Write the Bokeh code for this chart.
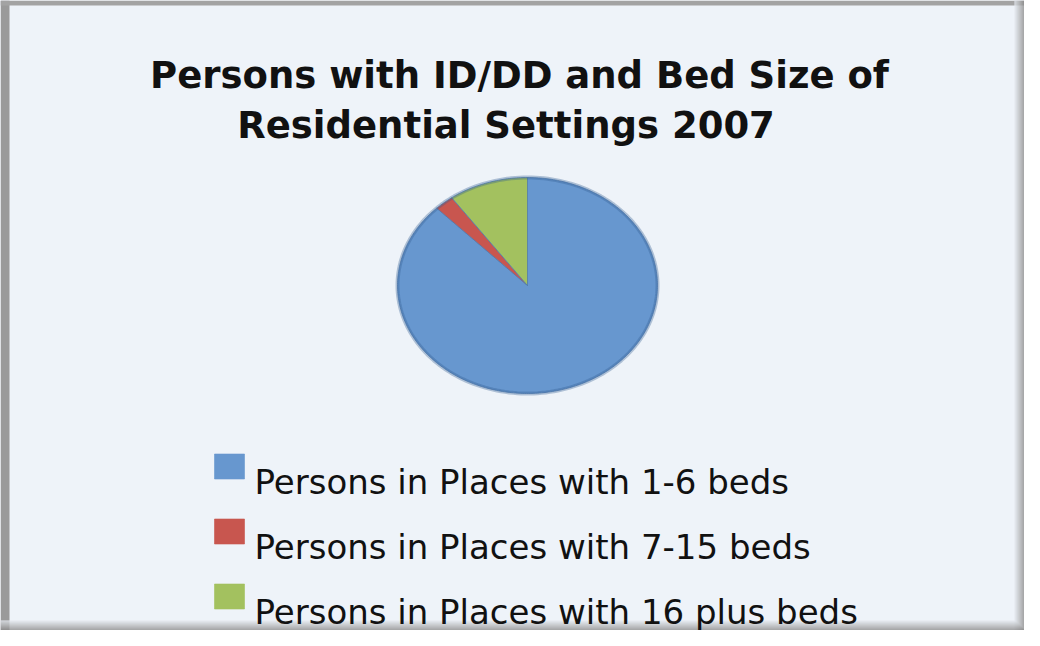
import numpy as np
from bokeh.plotting import figure
from bokeh.models import Range1d, ColumnDataSource
from bokeh.core.properties import value
from bokeh.embed import file_html
from bokeh.resources import INLINE

# ---- data ----
categories = ["Persons in Places with 1-6 beds",
              "Persons in Places with 7-15 beds",
              "Persons in Places with 16 plus beds"]
shares = [87.7, 2.4, 9.9]          # percent of persons
colors = ["#6797cf", "#c8564f", "#a3c15f"]
title_lines = ["Persons with ID/DD and Bed Size of", "Residential Settings  2007"]

# ---- layout/style constants ----
W, H = 1024, 630
X0, Y0 = 0, 0                      # data coords == reference pixel coords
CX, CY, RX, RY = 527, 285, 130, 108
BG = "#eef3f9"
FONT = "DejaVu Sans"

p = figure(width=W, height=H, output_backend="svg", toolbar_location=None,
           x_range=Range1d(X0, X0 + W), y_range=Range1d(Y0 + H, Y0),
           x_axis_type=None, y_axis_type=None, min_border=0)
p.grid.visible = False
p.outline_line_color = None
p.background_fill_color = BG
p.border_fill_color = BG

# frame borders (gradient shading)
p.quad(left=[X0], right=[X0 + 9], top=[Y0], bottom=[Y0 + H], fill_color="#9a9a9a", line_color=None)
p.quad(left=[X0], right=[X0 + W], top=[Y0], bottom=[Y0 + 5], fill_color="#a3a3a3", line_color=None)
n = 10
for i in range(n):
    t = (i + 1) / n
    c = tuple(int(a + (b - a) * t) for a, b in zip((238, 243, 249), (140, 140, 140)))
    col = "#%02x%02x%02x" % c
    p.quad(left=[X0 + W - n + i], right=[X0 + W - n + i + 1], top=[Y0], bottom=[Y0 + H],
           fill_color=col, line_color=None)
    p.quad(left=[X0], right=[X0 + W - n + i + 1], top=[Y0 + H - n + i], bottom=[Y0 + H - n + i + 1],
           fill_color=col, line_color=None)

# ---- pie (elliptical, clockwise from 12 o'clock) ----
vals = np.array(shares, dtype=float)
frac = vals / vals.sum()
ends = np.cumsum(frac) * 2 * np.pi
starts = ends - frac * 2 * np.pi
xs, ys = [], []
for s, e in zip(starts, ends):
    t = np.linspace(s, e, max(4, int((e - s) * 60)))
    xs.append(np.concatenate([[CX], CX + RX * np.sin(t), [CX]]).tolist())
    ys.append(np.concatenate([[CY], CY - RY * np.cos(t), [CY]]).tolist())
pie_src = ColumnDataSource(dict(xs=xs, ys=ys, color=colors, label=categories))
p.patches("xs", "ys", source=pie_src, fill_color="color", line_color="#4b78ae",
          line_width=1, line_alpha=0.7)
tt = np.linspace(0, 2 * np.pi, 200)
p.line(CX + RX * np.sin(tt), CY - RY * np.cos(tt), line_color="#355f92", line_width=4, line_alpha=0.35)

# ---- title ----
p.text(x=[519, 512], y=[75, 125], text=title_lines, text_align="center",
       text_baseline="alphabetic", text_font=value(FONT), text_font_style="bold",
       text_font_size="37px", text_color="#111111")

# ---- legend ----
ly = [481, 546, 611]
leg_src = ColumnDataSource(dict(y=ly, sy=[v - 15 for v in ly], label=categories, color=colors))
p.rect(x=229, y="sy", width=30, height=25, source=leg_src, fill_color="color",
       line_color="color", line_alpha=0.6)
p.text(x=254, y="y", text="label", source=leg_src, text_align="left",
       text_baseline="alphabetic", text_font=value(FONT), text_font_size="34px",
       text_color="#111111")

open("out.html", "w").write(file_html(p, INLINE))
